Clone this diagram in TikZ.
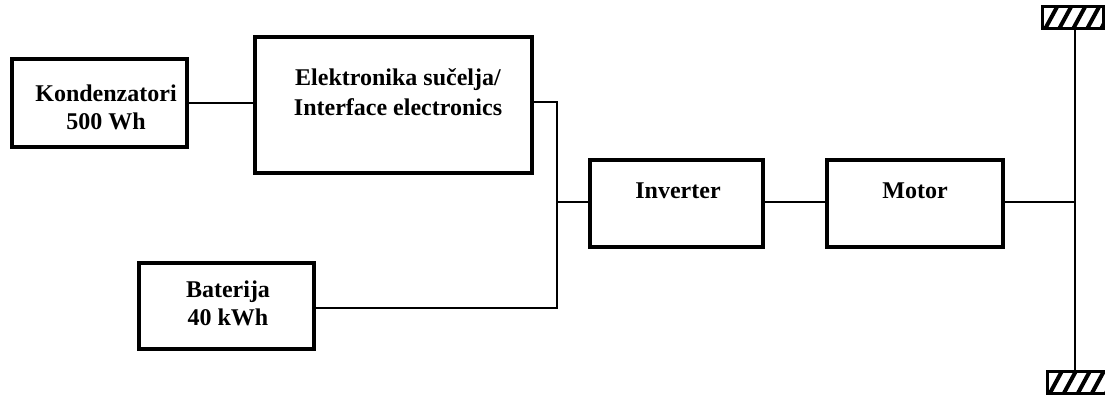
\documentclass[tikz,border=0pt]{standalone}
\usepackage{fontspec}
\setmainfont{Liberation Serif}
\begin{document}
\begin{tikzpicture}[x=1pt,y=-1pt,
  box/.style={draw, line width=3.4pt, inner sep=0pt},
  lbl/.style={inner sep=0pt, align=center, font=\bfseries\fontsize{24}{28}\selectfont},
  wire/.style={line width=2.9pt},
  wheel/.style={draw, line width=3pt, inner sep=0pt, minimum width=61pt, minimum height=22pt,
    path picture={\foreach \i in {0,...,4}{\draw[line width=4pt]
      ([xshift=\i*14pt+3pt]path picture bounding box.south west) -- ++(12pt,22pt);}}}]
\useasboundingbox[fill=white] (0,0) rectangle (1105,398);
% boxes
\node[box, minimum width=175pt, minimum height=88pt] (kond) at (99.5,103) {};
\node[lbl, anchor=north] (kondt) at (106,85) {Kondenzatori\\500 Wh};
\node[box, minimum width=277pt, minimum height=136pt] (iface) at (393.5,105) {};
\node[lbl, anchor=north, font=\bfseries\fontsize{24}{30}\selectfont] (ifacet) at (398,68) {Elektronika sučelja/\\Interface electronics};
\node[box, minimum width=175pt, minimum height=86pt] (bat) at (226.5,306) {};
\node[lbl, anchor=north] (batt) at (228,281) {Baterija\\40 kWh};
\node[box, minimum width=173pt, minimum height=87pt] (inv) at (676.5,203.5) {};
\node[lbl, anchor=base] (invt) at (678,199) {Inverter};
\node[box, minimum width=176pt, minimum height=87pt] (mot) at (915,203.5) {};
\node[lbl, anchor=base] (mott) at (915,198) {Motor};
% wheels
\node[wheel] (wtop) at (1072.5,18) {};
\node[wheel, minimum width=64pt] (wbot) at (1079,382) {};
% connectors
\coordinate (bus) at (557,202);
\coordinate (axle) at (1075,202);
\draw[wire] (kond.east) -- (kond.east -| iface.west);
\draw[wire] (iface.east |- 0,102) -| (bus) |- (bat.east |- 0,308);
\draw[wire] (bus) -- (bus -| inv.west);
\draw[wire] (inv.east |- bus) -- (mot.west |- bus);
\draw[wire] (mot.east |- bus) -- (axle);
\draw[wire] (axle |- wtop.south) -- (axle |- wbot.north);
\end{tikzpicture}
\end{document}
